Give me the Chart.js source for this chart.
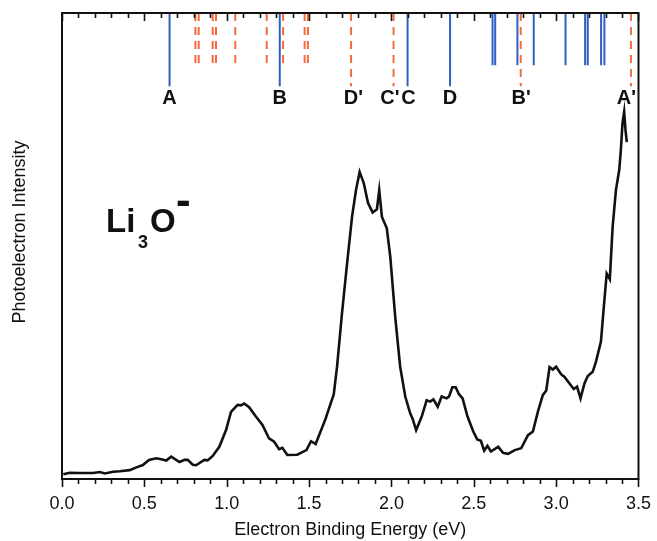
<!DOCTYPE html>
<html>
<head>
<meta charset="utf-8">
<title>Li3O- photoelectron spectrum</title>
<script src="https://cdn.jsdelivr.net/npm/chart.js@4"></script>
<style>
  html, body { margin: 0; padding: 0; background: #fff; }
  #spectrum { display: block; }
</style>
</head>
<body>
<canvas id="spectrum" width="657" height="541"></canvas>
<script>
// spectrum trace (binding energy in eV, intensity in arb. units)
const energy = [
    0.008, 0.048, 0.109, 0.189, 0.230, 0.260, 0.310, 0.351, 0.411, 0.452,
    0.491, 0.528, 0.572, 0.603, 0.633, 0.663, 0.713, 0.744, 0.763, 0.794,
    0.814, 0.864, 0.884, 0.915, 0.955, 0.996, 1.026, 1.066, 1.086, 1.106,
    1.136, 1.177, 1.217, 1.257, 1.288, 1.318, 1.338, 1.368, 1.428, 1.484,
    1.512, 1.540, 1.600, 1.650, 1.670, 1.700, 1.731, 1.761, 1.785, 1.807,
    1.832, 1.858, 1.886, 1.912, 1.926, 1.942, 1.972, 1.993, 2.023, 2.053,
    2.084, 2.114, 2.128, 2.150, 2.184, 2.214, 2.235, 2.255, 2.281, 2.305,
    2.335, 2.350, 2.370, 2.390, 2.410, 2.432, 2.462, 2.497, 2.521, 2.543,
    2.563, 2.583, 2.604, 2.648, 2.678, 2.708, 2.749, 2.788, 2.829, 2.859,
    2.889, 2.919, 2.940, 2.960, 2.980, 3.000, 3.030, 3.051, 3.081, 3.107,
    3.127, 3.148, 3.172, 3.192, 3.222, 3.242, 3.272, 3.288, 3.307, 3.326,
    3.343, 3.363, 3.383, 3.393, 3.403, 3.413, 3.421, 3.429
];
const intensity = [
    1.0, 1.35, 1.3, 1.3, 1.5, 1.2, 1.55, 1.65, 1.9, 2.5,
    3.0, 4.1, 4.45, 4.25, 3.95, 4.8, 3.65, 4.1, 4.1, 3.05,
    2.95, 4.1, 4.0, 4.95, 6.9, 10.5, 14.4, 15.9, 15.8, 16.2,
    15.4, 13.4, 11.6, 8.7, 8.0, 6.4, 6.7, 5.15, 5.2, 6.2,
    8.1, 7.5, 12.9, 18.2, 24.1, 35.6, 46.3, 56.3, 62.0, 65.9,
    63.5, 59.2, 57.2, 57.9, 62.0, 56.3, 53.8, 47.7, 34.8, 24.1,
    17.7, 14.1, 13.0, 10.5, 13.4, 16.9, 16.6, 17.1, 15.5, 17.7,
    17.3, 17.7, 19.7, 19.7, 18.2, 17.3, 13.4, 10.2, 8.5, 8.2,
    6.1, 7.1, 5.9, 6.9, 5.6, 5.4, 6.2, 6.6, 9.4, 10.2,
    14.4, 18.0, 19.0, 24.0, 23.5, 24.1, 22.5, 21.9, 20.5, 19.3,
    19.8, 17.3, 20.5, 22.1, 23.0, 25.2, 29.5, 36.3, 44.1, 42.9,
    54.1, 62.0, 66.3, 70.6, 76.4, 78.8, 74.9, 72.3
];

// calculated transitions (eV): solid blue and dashed orange sticks
const blueLong = [0.653, 1.322, 2.098, 2.356];
const blueShort = [2.614, 2.630, 2.765, 2.864, 3.057, 3.176, 3.192, 3.273, 3.293];
const orangeLong = [1.755, 2.013, 2.785, 3.454];
const orangeShort = [0.810, 0.830, 0.915, 0.935, 1.052, 1.243, 1.342, 1.473, 1.493];

// assignment labels and where they sit
const peakLabels = ['A', 'B', "D'", "C'", 'C', 'D', "B'", "A'"];
const peakLabelEnergy = [0.653, 1.322, 1.755, 2.013, 2.098, 2.356, 2.785, 3.454];

const X_MIN = 0, X_MAX = 3.5;
const Y_TOP = 100;
const LONG_END = 84.3, SHORT_END = 88.8;

const BLUE = '#2f5fbf';
const ORANGE = '#f26b3f';
const FONT = "'Liberation Sans', Arial, Helvetica, sans-serif";

function stickPoints(list, end) {
    const pts = [];
    list.forEach(function (e) {
        pts.push({ x: e, y: Y_TOP }, { x: e, y: end }, { x: e, y: null });
    });
    return pts;
}

// frame, tick marks, stick labels, species label, y title
const decorations = {
    id: 'decorations',
    afterDraw: function (chart) {
        const ctx = chart.ctx;
        const a = chart.chartArea;
        const xs = chart.scales.x;

        ctx.save();
        ctx.strokeStyle = '#111';
        ctx.lineWidth = 2;
        ctx.strokeRect(a.left, a.top, a.right - a.left, a.bottom - a.top);

        // minor ticks every 0.1, major every 0.5
        ctx.lineWidth = 1.6;
        ctx.beginPath();
        for (let i = 0; i <= 35; i++) {
            const px = Math.round(xs.getPixelForValue(i / 10)) + 0.5;
            const len = (i % 5 === 0) ? 8 : 5;
            ctx.moveTo(px, a.bottom);
            ctx.lineTo(px, a.bottom + len);
            ctx.moveTo(px, a.top);
            ctx.lineTo(px, a.top + len);
        }
        ctx.stroke();

        // stick assignment labels
        ctx.fillStyle = '#111';
        ctx.font = 'bold 20px ' + FONT;
        ctx.textBaseline = 'middle';
        ctx.textAlign = 'left';
        const shift = { "C'": -6, 'C': 1, "B'": -2, "A'": -7 };
        peakLabels.forEach(function (lab, i) {
            const px = xs.getPixelForValue(peakLabelEnergy[i]);
            const w = ctx.measureText(lab.charAt(0)).width;
            ctx.fillText(lab, px - w / 2 + (shift[lab] || 0), 98);
        });

        // Li3O- label
        ctx.textBaseline = 'alphabetic';
        ctx.font = 'bold 33px ' + FONT;
        ctx.fillText('Li', 106, 232);
        ctx.font = 'bold 18px ' + FONT;
        ctx.fillText('3', 138, 248);
        ctx.font = 'bold 33px ' + FONT;
        ctx.fillText('O', 150, 232);
        ctx.font = 'bold 44px ' + FONT;
        ctx.fillText('-', 176, 215);

        // y axis title
        ctx.font = '18px ' + FONT;
        ctx.textAlign = 'center';
        ctx.textBaseline = 'middle';
        ctx.translate(20, 232);
        ctx.rotate(-Math.PI / 2);
        ctx.fillText('Photoelectron Intensity', 0, 0);
        ctx.restore();
    }
};

Chart.defaults.font.family = FONT;
Chart.defaults.color = '#111';

const spectrumCtx = document.getElementById('spectrum');
new Chart(spectrumCtx, {
    type: 'line',
    data: {
        datasets: [{
            label: 'Li3O- spectrum',
            data: energy.map(function (e, i) { return { x: e, y: intensity[i] }; }),
            borderColor: '#111',
            borderWidth: 2.6,
            pointRadius: 0,
            tension: 0
        }, {
            label: 'blue long',
            data: stickPoints(blueLong, LONG_END),
            borderColor: BLUE,
            borderWidth: 2,
            pointRadius: 0,
            spanGaps: false
        }, {
            label: 'blue short',
            data: stickPoints(blueShort, SHORT_END),
            borderColor: BLUE,
            borderWidth: 2,
            pointRadius: 0,
            spanGaps: false
        }, {
            label: 'orange long',
            data: stickPoints(orangeLong, LONG_END),
            borderColor: ORANGE,
            borderWidth: 2,
            borderDash: [8, 6],
            pointRadius: 0,
            spanGaps: false
        }, {
            label: 'orange short',
            data: stickPoints(orangeShort, SHORT_END),
            borderColor: ORANGE,
            borderWidth: 2,
            borderDash: [8, 6],
            pointRadius: 0,
            spanGaps: false
        }]
    },
    options: {
        responsive: false,
        animation: false,
        layout: {
            padding: { top: 13, right: 16, bottom: 0, left: 0 }
        },
        plugins: {
            legend: { display: false },
            tooltip: { enabled: false }
        },
        scales: {
            x: {
                type: 'linear',
                min: X_MIN,
                max: X_MAX,
                grid: { display: false },
                border: { display: false },
                ticks: {
                    stepSize: 0.5,
                    padding: 6,
                    font: { size: 18 },
                    maxRotation: 0,
                    callback: function (v) { return v.toFixed(1); }
                },
                title: {
                    display: true,
                    text: 'Electron Binding Energy (eV)',
                    font: { size: 18 },
                    padding: { top: 0, bottom: 0 }
                },
                afterFit: function (scale) { scale.height = 62; }
            },
            y: {
                min: 0,
                max: Y_TOP,
                grid: { display: false },
                border: { display: false },
                ticks: { display: false },
                afterFit: function (scale) { scale.width = 62; }
            }
        }
    },
    plugins: [decorations]
});
</script>
</body>
</html>
